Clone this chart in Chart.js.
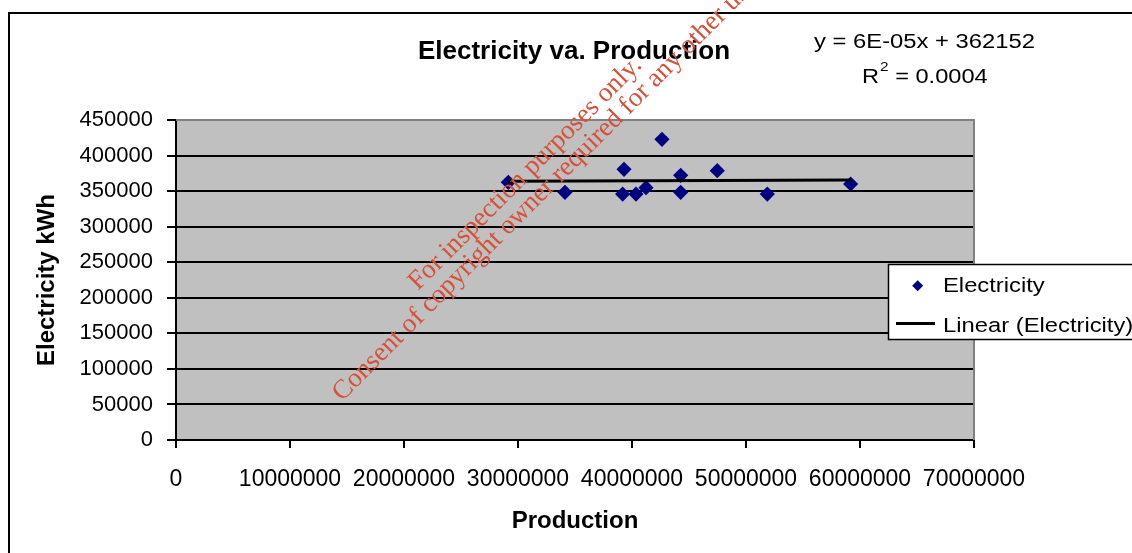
<!DOCTYPE html>
<html>
<head>
<meta charset="utf-8">
<title>Electricity va. Production</title>
<script src="https://cdn.jsdelivr.net/npm/chart.js@4.4.0/dist/chart.umd.min.js"></script>
<style>
  html, body { margin: 0; padding: 0; background: #ffffff; }
  #wrap { width: 1132px; height: 553px; position: relative; }
</style>
</head>
<body>
<div id="wrap"><canvas id="chart" width="1132" height="553"></canvas></div>
<script>
// Monthly production vs. electricity use
const production  = [29150000, 34120000, 39300000, 39180000, 40350000, 41230000,
                     42630000, 44270000, 44270000, 47480000, 51870000, 59180000];
const electricity = [362400, 348300, 380700, 345900, 345900, 354800,
                     422800, 372200, 348300, 378700, 345900, 360000];

// Linear trendline as reported on the chart
const trendSlope = 6e-5;
const trendIntercept = 362152;
const trendEquation = 'y = 6E-05x + 362152';
const trendR2 = '0.0004';

// Axis ranges and tick steps
const xMax = 70000000, xStep = 10000000;
const yMax = 450000,   yStep = 50000;

const chartTitle = 'Electricity va. Production';
const xTitle = 'Production';
const yTitle = 'Electricity kWh';
const seriesName = 'Electricity';
const trendName = 'Linear (Electricity)';

const MARKER = '#000080';
const SANS = '"Liberation Sans", Arial, sans-serif';
const SERIF = '"Liberation Serif", "Times New Roman", serif';

const points = production.map((x, i) => ({ x: x, y: electricity[i] }));
const xLo = Math.min(...production), xHi = Math.max(...production);
const trendPoints = [xLo, xHi].map(x => ({ x: x, y: trendSlope * x + trendIntercept }));

function stretchText(ctx, text, x, y, sx) {
  ctx.save();
  ctx.translate(x, y);
  ctx.scale(sx, 1);
  ctx.fillText(text, 0, 0);
  ctx.restore();
  return ctx.measureText(text).width * sx;
}

// Page background, outer frame and grey plot area
const frame = {
  id: 'frame',
  beforeDraw(chart) {
    const { ctx, chartArea: a } = chart;
    ctx.save();
    ctx.fillStyle = '#ffffff';
    ctx.fillRect(0, 0, chart.width, chart.height);
    ctx.strokeStyle = '#000000';
    ctx.lineWidth = 2;
    ctx.strokeRect(9, 13, 1200, 700);
    ctx.fillStyle = '#c0c0c0';
    ctx.fillRect(a.left, a.top, a.right - a.left, a.bottom - a.top);
    ctx.restore();
  },
  afterDatasetsDraw(chart) {
    const { ctx, chartArea: a } = chart;
    ctx.save();
    ctx.strokeStyle = '#808080';
    ctx.lineWidth = 2;
    ctx.beginPath();
    ctx.moveTo(a.left, a.top);
    ctx.lineTo(a.right, a.top);
    ctx.lineTo(a.right, a.bottom);
    ctx.stroke();
    ctx.restore();
  }
};

// Title, trendline equation, legend and the overprinted notice
const annotations = {
  id: 'annotations',
  afterDraw(chart) {
    const ctx = chart.ctx;
    const ds0 = chart.data.datasets[0];
    const ds1 = chart.data.datasets[1];
    ctx.save();
    ctx.fillStyle = '#000000';
    ctx.textBaseline = 'alphabetic';

    // title
    ctx.font = 'bold 26px ' + SANS;
    ctx.textAlign = 'center';
    ctx.fillText(chartTitle, 574, 59);

    // trendline equation
    ctx.textAlign = 'left';
    ctx.font = '20px ' + SANS;
    stretchText(ctx, trendEquation, 814, 48, 1.19);
    let x = 862;
    x += stretchText(ctx, 'R', x, 83, 1.18);
    ctx.font = '13px ' + SANS;
    x += stretchText(ctx, '2', x + 1, 71, 1.18) + 1;
    ctx.font = '20px ' + SANS;
    stretchText(ctx, ' = ' + trendR2, x, 83, 1.18);

    // legend
    ctx.fillStyle = '#ffffff';
    ctx.fillRect(888, 264, 300, 75);
    ctx.strokeStyle = '#000000';
    ctx.lineWidth = 1.5;
    ctx.strokeRect(888.5, 264.5, 300, 75);
    ctx.fillStyle = ds0.backgroundColor;
    ctx.beginPath();
    ctx.moveTo(917.7 - 5.5, 285.7);
    ctx.lineTo(917.7, 285.7 - 5.5);
    ctx.lineTo(917.7 + 5.5, 285.7);
    ctx.lineTo(917.7, 285.7 + 5.5);
    ctx.closePath();
    ctx.fill();
    ctx.strokeStyle = ds1.borderColor;
    ctx.lineWidth = ds1.borderWidth;
    ctx.beginPath();
    ctx.moveTo(896, 323.5);
    ctx.lineTo(935, 323.5);
    ctx.stroke();
    ctx.fillStyle = '#000000';
    ctx.font = '20.5px ' + SANS;
    stretchText(ctx, ds0.label, 943, 292, 1.16);
    stretchText(ctx, ds1.label, 943, 331.5, 1.16);

    // notice printed across the chart
    ctx.fillStyle = '#d6503a';
    ctx.font = '27px ' + SERIF;
    ctx.save();
    ctx.translate(418, 291);
    ctx.rotate(-Math.PI / 4);
    ctx.fillText('For inspection purposes only.', 0, 0);
    ctx.restore();
    ctx.save();
    ctx.translate(342, 402);
    ctx.rotate(-Math.PI / 4);
    ctx.fillText('Consent of copyright owner required for any other use.', 0, 0);
    ctx.restore();

    ctx.restore();
  }
};

new Chart(document.getElementById('chart'), {
  type: 'scatter',
  data: {
    datasets: [
      {
        label: seriesName,
        data: points,
        pointStyle: 'rectRot',
        pointRadius: 7.6,
        pointHoverRadius: 7.6,
        backgroundColor: MARKER,
        borderColor: MARKER,
        borderWidth: 0,
        order: 2
      },
      {
        label: trendName,
        data: trendPoints,
        showLine: true,
        borderColor: '#000000',
        borderWidth: 3,
        pointRadius: 0,
        fill: false,
        order: 1
      }
    ]
  },
  options: {
    responsive: false,
    animation: false,
    events: [],
    layout: { padding: { left: 0, right: 158, top: 120, bottom: 0 } },
    plugins: {
      legend: { display: false },
      tooltip: { enabled: false },
      title: { display: false }
    },
    scales: {
      x: {
        type: 'linear',
        position: 'bottom',
        min: 0,
        max: xMax,
        afterFit(scale) { scale.height = 113; },
        ticks: {
          stepSize: xStep,
          color: '#000000',
          font: { family: SANS, size: 23 },
          padding: 18,
          maxRotation: 0,
          autoSkip: false,
          callback: v => String(v)
        },
        grid: {
          drawOnChartArea: false,
          drawTicks: true,
          tickLength: 8,
          color: '#000000',
          lineWidth: 2
        },
        border: { display: true, color: '#000000', width: 2 },
        title: {
          display: true,
          text: xTitle,
          color: '#000000',
          font: { family: SANS, size: 24, weight: 'bold' },
          padding: { top: 0, bottom: 17 }
        }
      },
      y: {
        type: 'linear',
        min: 0,
        max: yMax,
        afterFit(scale) { scale.width = 176; },
        ticks: {
          stepSize: yStep,
          color: '#000000',
          font: { family: SANS, size: 22 },
          padding: 14,
          autoSkip: false,
          callback: v => String(v)
        },
        grid: {
          drawOnChartArea: true,
          drawTicks: true,
          tickLength: 9,
          color: '#000000',
          lineWidth: 2
        },
        border: { display: true, color: '#000000', width: 2 },
        title: {
          display: true,
          text: yTitle,
          color: '#000000',
          font: { family: SANS, size: 24, weight: 'bold' },
          padding: { top: 33, bottom: 0 }
        }
      }
    }
  },
  plugins: [frame, annotations]
});
</script>
</body>
</html>
